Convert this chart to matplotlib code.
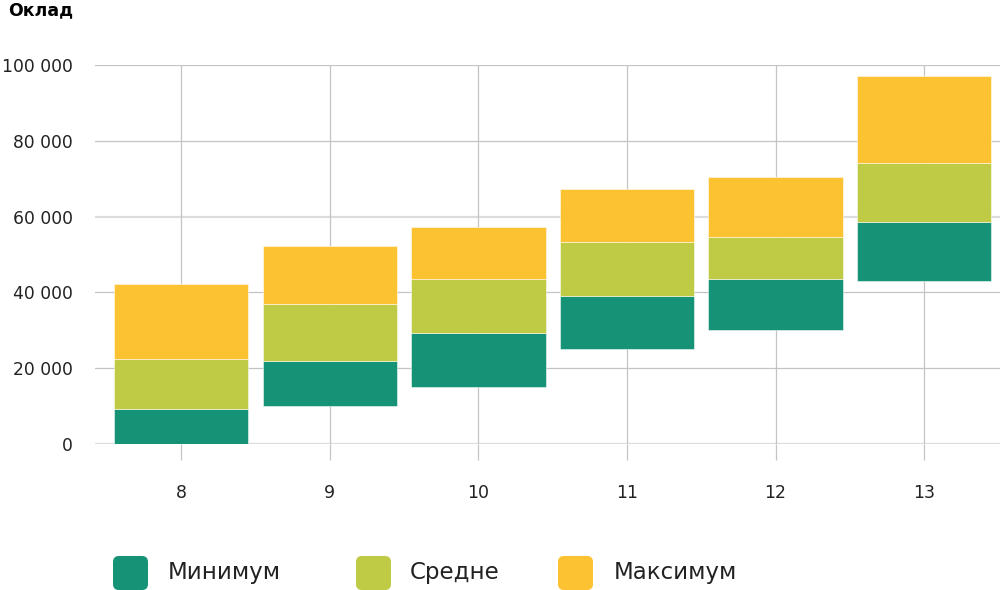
import numpy as np
import matplotlib
matplotlib.use("Agg")
import matplotlib.pyplot as plt
from matplotlib.patches import FancyBboxPatch
from matplotlib.ticker import FuncFormatter

plt.rcParams["font.family"] = ["DejaVu Sans"]

# grades and salary levels (top of each band)
grades = ["8", "9", "10", "11", "12", "13"]
base = [0, 10000, 15000, 25000, 30000, 43000]
min_top = [9200, 21900, 29300, 39100, 43500, 58600]
mid_top = [22400, 36900, 43500, 53300, 54600, 74100]
max_top = [42200, 52200, 57300, 67300, 70400, 97100]

labels = ["Минимум", "Средне", "Максимум"]
colors = ["#169377", "#BFCB45", "#FCC232"]

fig = plt.figure(figsize=(10, 5.9), dpi=100)
ax = fig.add_axes([0.095, 0.2475, 0.905, 0.6424])

x = np.arange(len(grades))
levels = [base, min_top, mid_top, max_top]
for i, col in enumerate(colors):
    lo = np.array(levels[i])
    hi = np.array(levels[i + 1])
    ax.bar(x, hi - lo, bottom=lo, width=0.905, color=col,
           edgecolor=(1, 1, 1, 0.6), linewidth=0.6, zorder=3)

ax.set_xlim(-0.58, 5.51)
ax.set_ylim(0, 100000)
ax.set_yticks(np.arange(0, 100001, 20000))
ax.yaxis.set_major_formatter(FuncFormatter(lambda v, p: f"{int(v):,}".replace(",", " ")))
ax.set_xticks(x)
ax.set_xticklabels(grades)

for s in ax.spines.values():
    s.set_visible(False)

# horizontal grid
for v in range(0, 100001, 20000):
    if v in (0, 60000):
        ax.axhline(v, color="#dcdcdc", lw=1.6, zorder=1)
    else:
        ax.axhline(v, color="#c4c4c4", lw=0.9, zorder=1)
ax.grid(axis="x", color="#c4c4c4", lw=0.9, zorder=1)

ax.tick_params(axis="y", length=0, pad=16, labelsize=12.3, labelcolor="#222222")
ax.tick_params(axis="x", length=11.5, width=0.9, color="#c4c4c4", pad=17,
               labelsize=12.5, labelcolor="#222222")

fig.text(0.008, 0.983, "Оклад", fontsize=12.5, fontweight="bold", va="center", ha="left")

# legend with rounded swatches
sw_x = [0.116, 0.359, 0.561]
tx_x = [0.168, 0.410, 0.614]
for sx, tx, lab, col in zip(sw_x, tx_x, labels, colors):
    p = FancyBboxPatch((sx, 0.005), 0.029, 0.0476,
                       boxstyle="round,pad=0.003,rounding_size=0.006",
                       transform=fig.transFigure, facecolor=col, edgecolor="none",
                       mutation_aspect=1.695)
    fig.patches.append(p)
    fig.text(tx, 0.0305, lab, fontsize=16.5, va="center", ha="left", color="#222222")

fig.savefig("out.png", dpi=100)
